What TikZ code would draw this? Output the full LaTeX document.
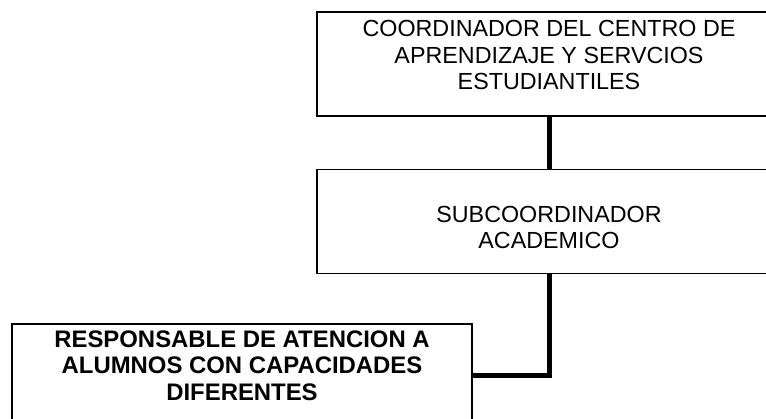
\documentclass[tikz,border=0pt]{standalone}
\usepackage{fontspec}
\setmainfont{Liberation Sans}
\usetikzlibrary{positioning}
\tikzset{
  orgbox/.style={draw,line width=1.2pt,minimum width=464pt,minimum height=104pt,inner sep=0pt},
  orgtext/.style={align=center,inner sep=0pt,anchor=north,font=\fontsize{23.3}{26.5}\selectfont},
  link/.style={line width=5pt,line join=miter}
}
\begin{document}
\begin{tikzpicture}[x=1pt,y=-1pt]
  \useasboundingbox (0,0) rectangle (766,419);
  \clip (0,0) rectangle (766,419);
  % boxes
  \node[orgbox] (coord) at (549,64) {};
  \node[orgbox,below=52pt of coord] (subc) {};
  \node[orgbox,minimum width=460pt] (resp) at (242,376) {};
  % texts
  \node[orgtext,below=9pt of coord.north] (coordtxt) {COORDINADOR DEL CENTRO DE\\APRENDIZAJE Y SERVCIOS\\ESTUDIANTILES};
  \node[orgtext,below=37pt of subc.north] (subctxt) {SUBCOORDINADOR\\ACADEMICO};
  \node[orgtext,font=\fontsize{23.9}{26.5}\selectfont\bfseries,below=7pt of resp.north] (resptxt) {RESPONSABLE DE ATENCION A\\ALUMNOS CON CAPACIDADES\\DIFERENTES};
  % connectors
  \draw[link] (coord.south) -- (subc.north);
  \draw[link] (subc.south) |- (resp.east);
\end{tikzpicture}
\end{document}
